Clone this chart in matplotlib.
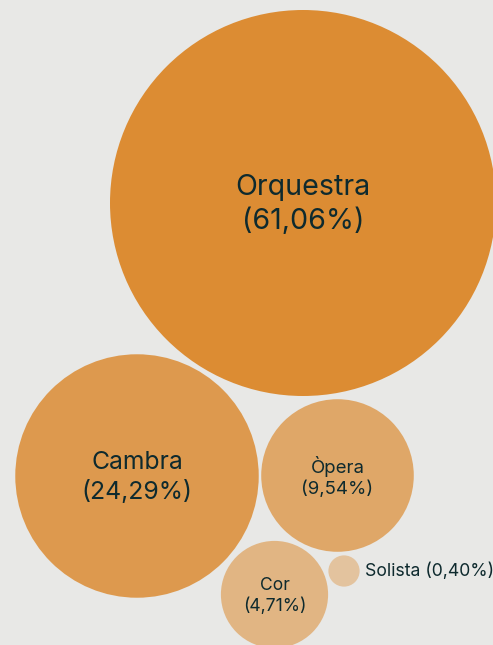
import numpy as np
import matplotlib
matplotlib.use("Agg")
from matplotlib import pyplot as plt
from matplotlib.patches import Circle

# shares of each category (%)
labels = ["Orquestra", "Cambra", "Òpera", "Cor", "Solista"]
shares = [61.06, 24.29, 9.54, 4.71, 0.40]

# layout (pixel positions of the packed bubbles)
cx = [303, 137, 337.5, 274.5, 344]
cy = [203, 476, 475.5, 594.5, 571]
alphas = [1.0, 0.85, 0.7, 0.55, 0.4]
fsizes = [20.6, 17.8, 13.4, 12.6, 12.7]

bg = "#e8e8e6"
base = "#dc8c33"
txt = "#0e2a2e"

plt.rcParams['font.family'] = ['Inter', 'DejaVu Sans']

fig = plt.figure(figsize=(4.93, 6.45), dpi=100, facecolor=bg)
ax = fig.add_axes([0, 0, 1, 1])
ax.set_facecolor(bg)
ax.set_xlim(0, 493)
ax.set_ylim(645, 0)
ax.set_aspect('equal')
ax.axis('off')

k = 193 / np.sqrt(max(shares))  # radius scale: area proportional to share
for i, (lab, s) in enumerate(zip(labels, shares)):
    r = k * np.sqrt(s)
    ax.add_patch(Circle((cx[i], cy[i]), r, facecolor=base, alpha=alphas[i], edgecolor='none'))
    pct = ("%.2f" % s).replace('.', ',')
    if r > 30:
        ax.text(cx[i], cy[i] + 1.5, lab + "\n(" + pct + "%)", ha='center', va='center',
                fontsize=fsizes[i], color=txt, linespacing=1.28)
    else:
        ax.text(cx[i] + r + 5, cy[i], lab + " (" + pct + "%)", ha='left', va='center',
                fontsize=fsizes[i], color=txt)

fig.savefig("out.png", dpi=100, facecolor=bg)
